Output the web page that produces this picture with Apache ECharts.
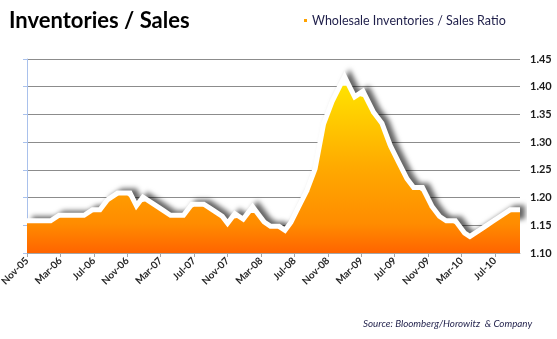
<!DOCTYPE html>
<html>
<head>
<meta charset="utf-8">
<script src="https://cdn.jsdelivr.net/npm/echarts@6/dist/echarts.min.js"></script>
<style>
  html, body { margin: 0; padding: 0; background: #ffffff; }
  #chart { width: 557px; height: 339px; }
</style>
</head>
<body>
<div id="chart"></div>
<script>
// Monthly categories, Nov-05 through Oct-10
var months = [
  'Nov-05','Dec-05',
  'Jan-06','Feb-06','Mar-06','Apr-06','May-06','Jun-06','Jul-06','Aug-06','Sep-06','Oct-06','Nov-06','Dec-06',
  'Jan-07','Feb-07','Mar-07','Apr-07','May-07','Jun-07','Jul-07','Aug-07','Sep-07','Oct-07','Nov-07','Dec-07',
  'Jan-08','Feb-08','Mar-08','Apr-08','May-08','Jun-08','Jul-08','Aug-08','Sep-08','Oct-08','Nov-08','Dec-08',
  'Jan-09','Feb-09','Mar-09','Apr-09','May-09','Jun-09','Jul-09','Aug-09','Sep-09','Oct-09','Nov-09','Dec-09',
  'Jan-10','Feb-10','Mar-10','Apr-10','May-10','Jun-10','Jul-10','Aug-10','Sep-10','Oct-10'
];

// Wholesale inventories / sales ratio
var ratio = [
  1.15, 1.15,
  1.15, 1.15, 1.16, 1.16, 1.16, 1.16, 1.17, 1.17, 1.19, 1.20, 1.20, 1.17,
  1.19, 1.18, 1.17, 1.16, 1.16, 1.16, 1.18, 1.18, 1.17, 1.16, 1.14, 1.16,
  1.15, 1.17, 1.15, 1.14, 1.14, 1.13, 1.15, 1.18, 1.21, 1.25, 1.33, 1.37,
  1.40, 1.37, 1.38, 1.35, 1.33, 1.29, 1.26, 1.23, 1.21, 1.21, 1.18, 1.16,
  1.15, 1.15, 1.13, 1.12, 1.13, 1.14, 1.15, 1.16, 1.17, 1.17
];

var yMin = 1.10, yMax = 1.45, yStep = 0.05;
var seriesName = 'Wholesale Inventories / Sales Ratio';
var sourceNote = 'Source: Bloomberg/Horowitz  & Company';

var chart = echarts.init(document.getElementById('chart'), null, { renderer: 'canvas' });

function fill() {
  return new echarts.graphic.LinearGradient(0, 80, 0, 253, [
    { offset: 0,    color: '#FFE600' },
    { offset: 0.5,  color: '#FFAA00' },
    { offset: 0.83, color: '#FF8C00' },
    { offset: 1,    color: '#FF6400' }
  ], true);
}

chart.setOption({
  animation: false,
  backgroundColor: '#ffffff',
  title: {
    text: 'Inventories / Sales',
    left: 9, top: 10, padding: 0,
    textStyle: { fontFamily: 'Lato', fontWeight: 'bold', fontSize: 22, color: '#000000' }
  },
  legend: {
    data: [seriesName],
    left: 304, top: 14, padding: 0,
    icon: 'rect', itemWidth: 3, itemHeight: 3,
    textStyle: { fontFamily: 'Lato', fontSize: 12.5, color: '#1F1F4A' }
  },
  grid: { left: 27, right: 37, top: 59, bottom: 86, outerBoundsMode: 'none' },
  xAxis: {
    type: 'category',
    data: months,
    boundaryGap: false,
    axisLine: { lineStyle: { color: '#A6A6A6', width: 1 } },
    axisTick: { interval: 3, length: 4, lineStyle: { color: '#A6A6A6' } },
    axisLabel: {
      interval: 3, rotate: 45, margin: 6,
      fontFamily: 'Lato', fontWeight: 'bold', fontSize: 10, color: '#262626'
    },
    splitLine: { show: false }
  },
  yAxis: [{
    type: 'value', position: 'right',
    min: yMin, max: yMax, interval: yStep,
    axisLine: { show: false },
    axisTick: { show: false },
    axisLabel: {
      margin: 10, fontFamily: 'Lato', fontWeight: 'bold', fontSize: 11, color: '#1A1A1A',
      formatter: function (v) { return v.toFixed(2); }
    },
    splitLine: { lineStyle: { color: '#8C8C8C', width: 1 } }
  }, {
    type: 'value', position: 'left',
    min: yMin, max: yMax, interval: yStep,
    axisLine: { show: true, lineStyle: { color: '#A9C1EC', width: 1 } },
    axisTick: { show: true, inside: false, length: 4, lineStyle: { color: '#A9C1EC' } },
    axisLabel: { show: false },
    splitLine: { show: false }
  }],
  series: [{
    // white ridge with a soft shadow, mostly hidden beneath the filled area
    name: 'ridge',
    type: 'line',
    z: 1,
    data: ratio,
    symbol: 'none',
    silent: true,
    lineStyle: {
      color: '#ffffff', width: 14, join: 'miter',
      shadowColor: 'rgba(0,0,0,0.6)', shadowBlur: 5, shadowOffsetX: 5, shadowOffsetY: -2
    }
  }, {
    name: seriesName,
    type: 'line',
    z: 3,
    data: ratio,
    symbol: 'none',
    itemStyle: { color: '#FFA200' },
    lineStyle: { color: fill(), width: 4 },
    areaStyle: { color: fill(), opacity: 1, origin: 'start' }
  }],
  graphic: [{
    type: 'text',
    left: 363, top: 319,
    style: {
      text: sourceNote,
      fontFamily: 'Lato', fontStyle: 'italic', fontSize: 9.8, fill: '#1F1F4A'
    }
  }]
});
</script>
</body>
</html>
